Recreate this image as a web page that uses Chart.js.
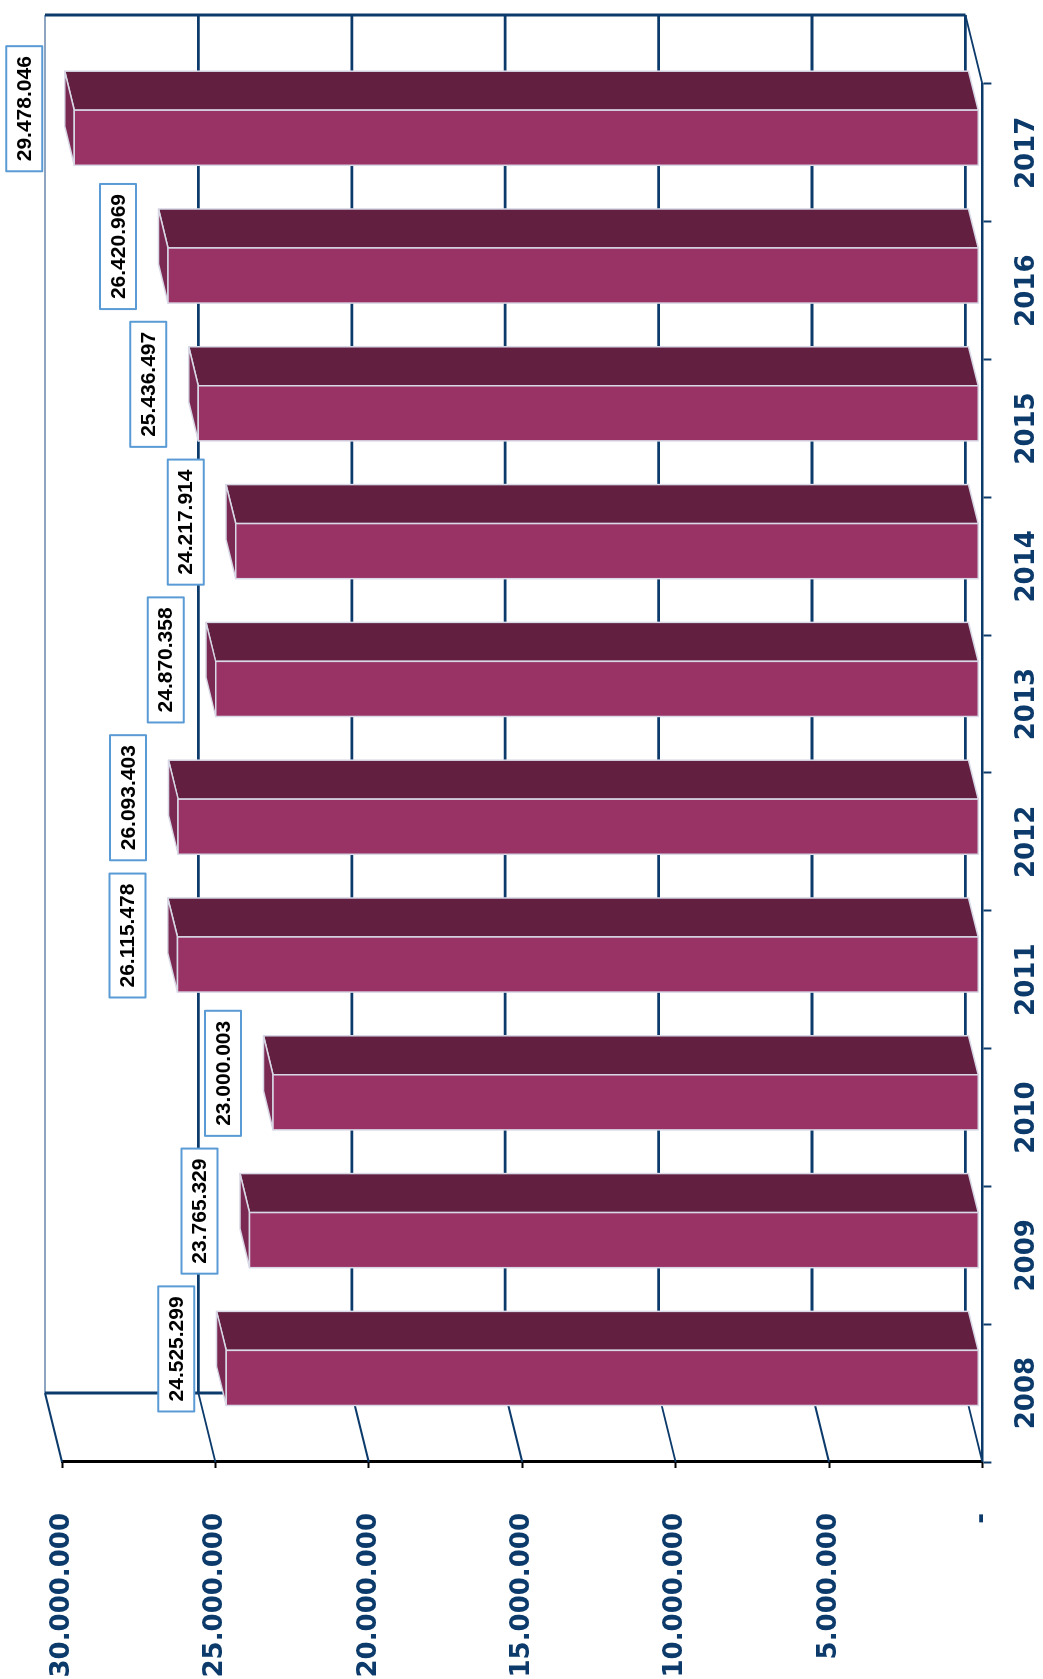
<!DOCTYPE html>
<html>
<head>
<meta charset="utf-8">
<script src="https://cdn.jsdelivr.net/npm/chart.js@4.4.1/dist/chart.umd.min.js"></script>
<style>
html, body { margin: 0; padding: 0; background: #fff; width: 1043px; height: 1679px; overflow: hidden; }
/* chart is drawn as a normal column chart, then turned a quarter to the left */
#wrap { position: absolute; left: 0; top: 0; width: 1679px; height: 1043px;
        transform-origin: 0 0; transform: translateY(1679px) rotate(-90deg); }
</style>
</head>
<body>
<div id="wrap"><canvas id="chart" width="1679" height="1043"></canvas></div>
<script>
var years = ['2008', '2009', '2010', '2011', '2012', '2013', '2014', '2015', '2016', '2017'];
var values = [24525299, 23765329, 23000003, 26115478, 26093403, 24870358, 24217914, 25436497, 26420969, 29478046];
var valueTicks = [0, 5000000, 10000000, 15000000, 20000000, 25000000, 30000000];

var navy = '#0b3a6b';
var wallEdge = '#8ea5c2';
var frontColor = '#993366';
var sideColor = '#621f40';
var topColor = '#7a2a52';
var edgeColor = '#d8d8e6';

// offset of the back wall from the front plane (canvas px, before rotation)
var depth = { du: 69, dv: -17 };
var barFront = 0.22, barDepth = 0.565;

function dotFmt(n) {
   if (n === 0) return '-';
   return String(n).replace(/\B(?=(\d{3})+(?!\d))/g, '.');
}

function line(ctx, x1, y1, x2, y2, color, w) {
   ctx.beginPath();
   ctx.moveTo(x1, y1);
   ctx.lineTo(x2, y2);
   ctx.strokeStyle = color;
   ctx.lineWidth = w;
   ctx.stroke();
}

function poly(ctx, pts, fill) {
   ctx.beginPath();
   ctx.moveTo(pts[0][0], pts[0][1]);
   for (var i = 1; i < pts.length; i++) ctx.lineTo(pts[i][0], pts[i][1]);
   ctx.closePath();
   ctx.fillStyle = fill;
   ctx.fill();
   ctx.strokeStyle = edgeColor;
   ctx.lineWidth = 1.5;
   ctx.stroke();
}

var box3d = {
   id: 'box3d',
   beforeDatasetsDraw: function(chart) {
      var ctx = chart.ctx, a = chart.chartArea, y = chart.scales.y;
      var top = y.getPixelForValue(valueTicks[valueTicks.length - 1]);
      ctx.save();
      valueTicks.forEach(function(t, i) {
         var v = y.getPixelForValue(t);
         line(ctx, a.left, v, a.left + depth.du, v + depth.dv, navy, 2);
         var last = i === valueTicks.length - 1;
         line(ctx, a.left + depth.du, v + depth.dv, a.right + depth.du, v + depth.dv, last ? wallEdge : navy, last ? 2 : 2.8);
      });
      line(ctx, a.left + depth.du, top + depth.dv, a.left + depth.du, a.bottom + depth.dv, navy, 3);
      line(ctx, a.right + depth.du, top + depth.dv, a.right + depth.du, a.bottom + depth.dv, navy, 3);
      line(ctx, a.right, a.bottom, a.right + depth.du, a.bottom + depth.dv, navy, 2);
      ctx.restore();
   },
   afterDatasetsDraw: function(chart) {
      var ctx = chart.ctx;
      var meta = chart.getDatasetMeta(0);
      var fu = depth.du * barFront, fv = depth.dv * barFront;
      var bu = depth.du * barDepth, bv = depth.dv * barDepth;
      ctx.save();
      ctx.lineJoin = 'round';
      meta.data.forEach(function(bar) {
         var l = bar.x - bar.width / 2 + fu, r = bar.x + bar.width / 2 + fu;
         var t = bar.y + fv, b = bar.base + fv;
         poly(ctx, [[r, t], [r + bu, t + bv], [r + bu, b + bv], [r, b]], sideColor);
         poly(ctx, [[l, t], [r, t], [r + bu, t + bv], [l + bu, t + bv]], topColor);
         poly(ctx, [[l, t], [r, t], [r, b], [l, b]], frontColor);
      });
      // value labels in framed boxes
      ctx.font = 'bold 21px "Liberation Sans", Arial, sans-serif';
      ctx.textAlign = 'center';
      ctx.textBaseline = 'middle';
      meta.data.forEach(function(bar, i) {
         var txt = dotFmt(values[i]);
         var w = ctx.measureText(txt).width + 20, h = 36;
         var cx = bar.x + fu + 29;
         var bottom = bar.y + fv - 32;
         ctx.fillStyle = '#fff';
         ctx.fillRect(cx - w / 2, bottom - h, w, h);
         ctx.strokeStyle = '#5b9bd5';
         ctx.lineWidth = 2;
         ctx.strokeRect(cx - w / 2, bottom - h, w, h);
         ctx.fillStyle = '#000';
         ctx.fillText(txt, cx, bottom - h / 2 + 1);
      });
      ctx.restore();
   }
};

var ctx = document.getElementById('chart').getContext('2d');
var myChart = new Chart(ctx, {
   type: 'bar',
   data: {
      labels: years,
      datasets: [{
         data: values,
         backgroundColor: 'rgba(0,0,0,0)',
         borderWidth: 0,
         barPercentage: 0.4,
         categoryPercentage: 1
      }]
   },
   options: {
      responsive: false,
      animation: false,
      devicePixelRatio: 1,
      layout: { padding: { top: 62, right: 84, left: 0, bottom: 0 } },
      plugins: { legend: { display: false }, tooltip: { enabled: false } },
      scales: {
         x: {
            grid: { offset: true, drawOnChartArea: false, tickLength: 9, tickWidth: 2, tickColor: navy },
            border: { color: navy, width: 2.5 },
            ticks: { color: navy, padding: 20, maxRotation: 0,
                     font: { family: 'DejaVu Sans', size: 26, weight: 'bold' } },
            afterFit: function(s) { s.height = 57; }
         },
         y: {
            min: 0,
            max: 30000000,
            afterBuildTicks: function(s) { s.ticks = valueTicks.map(function(v) { return { value: v }; }); },
            grid: { drawOnChartArea: false, tickLength: 6, tickWidth: 2, tickColor: '#000' },
            border: { color: '#000', width: 3 },
            ticks: { color: navy, padding: 45,
                     font: { family: 'DejaVu Sans', size: 26, weight: 'bold' },
                     callback: function(v) { return dotFmt(v); } },
            afterFit: function(s) { s.width = 217; }
         }
      }
   },
   plugins: [box3d]
});
</script>
</body>
</html>
